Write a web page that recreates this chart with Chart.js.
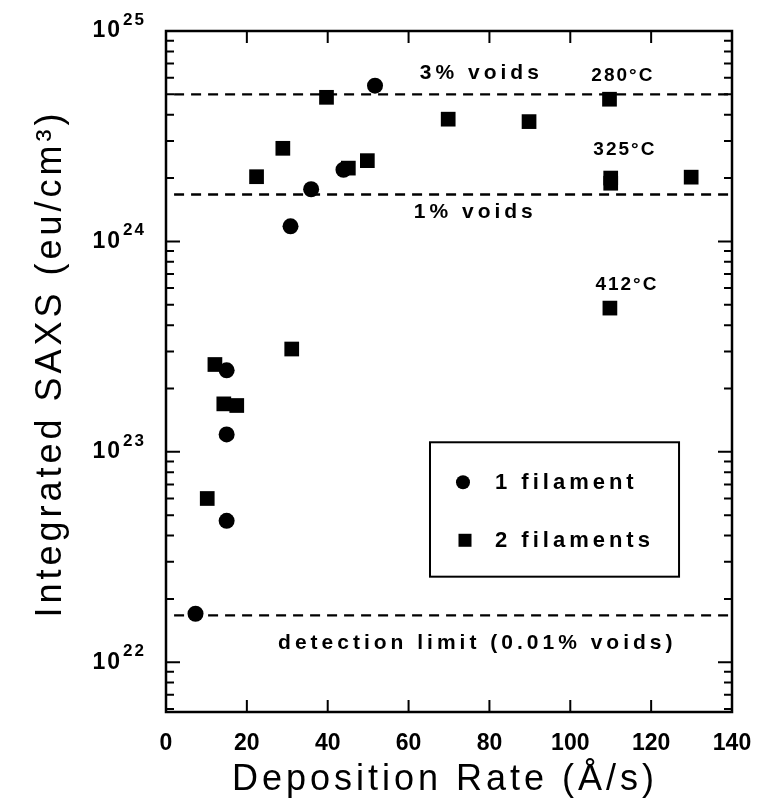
<!DOCTYPE html>
<html>
<head>
<meta charset="utf-8">
<script src="https://cdn.jsdelivr.net/npm/chart.js@4.4.1/dist/chart.umd.min.js"></script>
<style>
  html, body { margin: 0; padding: 0; background: #fff; }
  #wrap { width: 759px; height: 808px; }
</style>
</head>
<body>
<div id="wrap"><canvas id="saxsChart"></canvas></div>
<script>
// values
const oneFilamentRate = [7.3, 15.0, 15.0, 15.0, 30.8, 35.9, 43.9, 51.7];
const oneFilamentSaxs = [1.7e22, 4.7e22, 1.21e23, 2.44e23, 1.18e24, 1.77e24, 2.19e24, 5.5e24];
const twoFilamentRate = [10.2, 12.1, 14.3, 17.5, 22.4, 28.9, 31.1, 39.7, 45.1, 49.8, 69.8, 89.8, 109.7, 110.0, 110.0, 109.8, 129.9];
const twoFilamentSaxs = [6.0e22, 2.6e23, 1.69e23, 1.66e23, 2.03e24, 2.77e24, 3.08e23, 4.84e24, 2.23e24, 2.42e24, 3.81e24, 3.71e24, 4.74e24, 2.0e24, 1.89e24, 4.82e23, 2.02e24];
const seriesLabels = ['1 filament', '2 filaments'];
const voidLevels = [5.0e24, 1.67e24, 1.67e22];
const voidLabels = ['3% voids', '1% voids', 'detection limit (0.01% voids)'];
const tempLabels = ['280°C', '325°C', '412°C'];
const yDecades = [22, 23, 24, 25];
const xTitle = 'Deposition Rate (Å/s)';
const yTitle = 'Integrated SAXS (eu/cm³)';

const toPoints = (xs, ys) => xs.map((x, i) => ({x: x, y: ys[i]}));

const refLines = voidLevels.map(v => ({
    type: 'scatter',
    data: [{x: 2, y: v}, {x: 140, y: v}],
    showLine: true,
    borderColor: '#000',
    borderWidth: 2.4,
    borderDash: [10, 7],
    pointRadius: 0
}));

// text placed in data units
const notes = [
    {text: voidLabels[0], x: 78, y: 6.3e24, size: 21, sp: 4},
    {text: voidLabels[1], x: 76.5, y: 1.38e24, size: 21, sp: 4},
    {text: voidLabels[2], x: 77, y: 1.23e22, size: 21, sp: 4},
    {text: tempLabels[0], x: 113, y: 6.15e24, size: 19, sp: 2},
    {text: tempLabels[1], x: 113.5, y: 2.74e24, size: 19, sp: 2},
    {text: tempLabels[2], x: 114, y: 6.2e23, size: 19, sp: 2}
];

const framePlugin = {
    id: 'framePlugin',
    afterDraw(chart) {
        const ctx = chart.ctx;
        const a = chart.chartArea;
        const xs = chart.scales.x;
        const ys = chart.scales.y;
        ctx.save();
        ctx.strokeStyle = '#000';
        ctx.fillStyle = '#000';

        // frame
        ctx.lineWidth = 2.5;
        ctx.strokeRect(a.left, a.top, a.right - a.left, a.bottom - a.top);

        // inward ticks
        ctx.lineWidth = 2;
        ctx.beginPath();
        xs.ticks.forEach(t => {
            if (t.value <= xs.min || t.value >= xs.max) return;
            const px = xs.getPixelForValue(t.value);
            ctx.moveTo(px, a.bottom); ctx.lineTo(px, a.bottom - 12);
            ctx.moveTo(px, a.top); ctx.lineTo(px, a.top + 12);
        });
        for (let e = 21; e <= 24; e++) {
            for (let m = 1; m <= 9; m++) {
                const v = m * Math.pow(10, e);
                if (v < ys.min || v > ys.max) continue;
                const py = ys.getPixelForValue(v);
                const len = m === 1 ? 14 : 8;
                ctx.moveTo(a.left, py); ctx.lineTo(a.left + len, py);
                ctx.moveTo(a.right, py); ctx.lineTo(a.right - len, py);
            }
        }
        ctx.stroke();

        // y tick labels with exponents
        yDecades.forEach(d => {
            const py = ys.getPixelForValue(Math.pow(10, d));
            ctx.letterSpacing = '2px';
            ctx.font = 'bold 23px "Liberation Sans"';
            ctx.textAlign = 'right';
            ctx.textBaseline = 'middle';
            ctx.fillText('10', a.left - 44, py);
            ctx.font = 'bold 17px "Liberation Sans"';
            ctx.textAlign = 'left';
            ctx.fillText(String(d), a.left - 43, py - 11);
        });

        // axis titles
        ctx.letterSpacing = '4px';
        ctx.font = '36px "Liberation Sans"';
        ctx.textAlign = 'center';
        ctx.textBaseline = 'alphabetic';
        ctx.fillText(xTitle, (a.left + a.right) / 2 - 4, 790);
        ctx.save();
        ctx.translate(61, (a.top + a.bottom) / 2 - 8);
        ctx.rotate(-Math.PI / 2);
        ctx.fillText(yTitle, 0, 0);
        ctx.restore();

        // annotations
        ctx.textBaseline = 'middle';
        notes.forEach(n => {
            ctx.letterSpacing = n.sp + 'px';
            ctx.font = 'bold ' + n.size + 'px "Liberation Sans"';
            ctx.fillText(n.text, xs.getPixelForValue(n.x), ys.getPixelForValue(n.y));
        });

        // legend box
        const lx = xs.getPixelForValue(65.3);
        const rx = xs.getPixelForValue(126.9);
        const ty = ys.getPixelForValue(1.11e23);
        const by = ys.getPixelForValue(2.55e22);
        ctx.lineWidth = 2;
        ctx.strokeRect(lx, ty, rx - lx, by - ty);
        ctx.letterSpacing = '4px';
        ctx.font = 'bold 22px "Liberation Sans"';
        ctx.textAlign = 'left';
        const row1 = ty + 40, row2 = ty + 98;
        ctx.beginPath();
        ctx.arc(lx + 33, row1, 7, 0, Math.PI * 2);
        ctx.fill();
        ctx.fillRect(lx + 35 - 6.5, row2 - 6.5, 13, 13);
        ctx.fillText(chart.data.datasets[0].label, lx + 65, row1 + 1);
        ctx.fillText(chart.data.datasets[1].label, lx + 65, row2 + 1);

        ctx.restore();
    }
};

new Chart(document.getElementById('saxsChart').getContext('2d'), {
    type: 'scatter',
    data: {
        datasets: [{
            label: seriesLabels[0],
            data: toPoints(oneFilamentRate, oneFilamentSaxs),
            pointStyle: 'circle',
            pointRadius: 8,
            backgroundColor: '#000',
            borderColor: '#000',
            borderWidth: 0
        }, {
            label: seriesLabels[1],
            data: toPoints(twoFilamentRate, twoFilamentSaxs),
            pointStyle: 'rect',
            pointRadius: 10.4,
            backgroundColor: '#000',
            borderColor: '#000',
            borderWidth: 0
        }].concat(refLines)
    },
    options: {
        responsive: true,
        maintainAspectRatio: false,
        animation: false,
        layout: {padding: {top: 31, right: 27, left: 0, bottom: 0}},
        plugins: {
            legend: {display: false},
            tooltip: {enabled: false}
        },
        scales: {
            x: {
                type: 'linear',
                min: 0,
                max: 140,
                ticks: {
                    stepSize: 20,
                    color: '#000',
                    padding: 18,
                    maxRotation: 0,
                    autoSkip: false,
                    font: {family: 'Liberation Sans', size: 23, weight: 'bold'}
                },
                grid: {display: false, drawTicks: false},
                border: {display: false},
                afterFit(s) {
                    s.height = 96;
                    s.paddingLeft = 0;
                    s.paddingRight = 0;
                }
            },
            y: {
                type: 'logarithmic',
                min: 5.8e21,
                max: 1e25,
                ticks: {display: false},
                grid: {display: false, drawTicks: false},
                border: {display: false},
                afterFit(s) {
                    s.width = 166;
                    s.paddingTop = 0;
                    s.paddingBottom = 0;
                }
            }
        }
    },
    plugins: [framePlugin]
});
</script>
</body>
</html>
